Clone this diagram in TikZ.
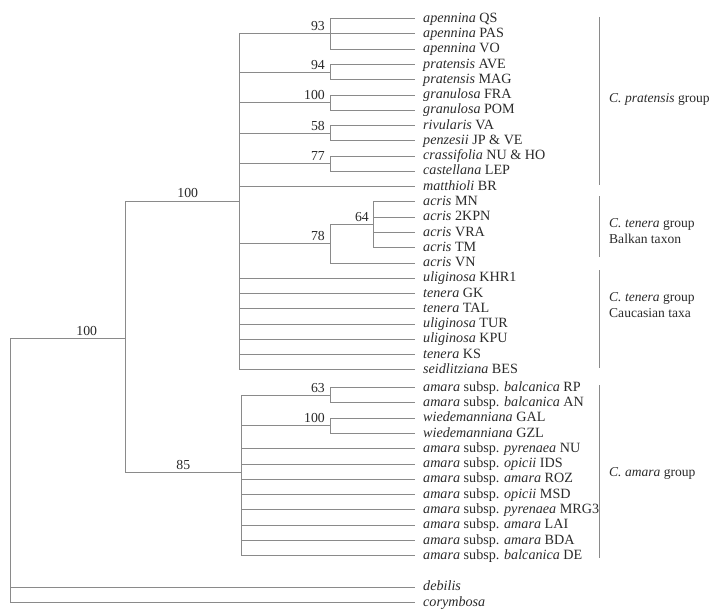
\documentclass[tikz,border=0pt]{standalone}
\usepackage{fontspec}
\setmainfont{Liberation Serif}
\definecolor{linec}{HTML}{8A8A8A}
\definecolor{textc}{HTML}{2A2A2A}
\newcommand\lf[3]{\coordinate (t#1) at (415,#2); \node[leaf] (L#1) at (423,{#2+3.6}) {#3};}
\begin{document}
\begin{tikzpicture}[x=1bp,y=-1bp,
  br/.style={draw=linec, line width=1bp},
  bar/.style={draw=linec, line width=1.3bp},
  leaf/.style={anchor=base west, inner sep=0, font=\fontsize{14.2}{15}\selectfont, text=textc},
  bsv/.style={anchor=base east, inner sep=0, font=\fontsize{13.8}{15}\selectfont, text=textc},
  bsc/.style={anchor=base, inner sep=0, font=\fontsize{13.8}{15}\selectfont, text=textc},
  grp/.style={anchor=west, inner sep=0, align=left, font=\fontsize{13.6}{16}\selectfont, text=textc}]
\useasboundingbox (0,0) rectangle (720,611);
% leaves
\lf{0}{18.7}{\textit{apennina} QS}
\lf{1}{33.97}{\textit{apennina} PAS}
\lf{2}{49.24}{\textit{apennina} VO}
\lf{3}{64.51}{\textit{pratensis} AVE}
\lf{4}{79.78}{\textit{pratensis} MAG}
\lf{5}{95.05}{\textit{granulosa} FRA}
\lf{6}{110.32}{\textit{granulosa} POM}
\lf{7}{125.59}{\textit{rivularis} VA}
\lf{8}{140.86}{\textit{penzesii} JP \& VE}
\lf{9}{156.13}{\textit{crassifolia} NU \& HO}
\lf{10}{171.4}{\textit{castellana} LEP}
\lf{11}{186.67}{\textit{matthioli} BR}
\lf{12}{201.94}{\textit{acris} MN}
\lf{13}{217.21}{\textit{acris} 2KPN}
\lf{14}{232.48}{\textit{acris} VRA}
\lf{15}{247.75}{\textit{acris} TM}
\lf{16}{263.02}{\textit{acris} VN}
\lf{17}{278.29}{\textit{uliginosa} KHR1}
\lf{18}{293.56}{\textit{tenera} GK}
\lf{19}{308.83}{\textit{tenera} TAL}
\lf{20}{324.1}{\textit{uliginosa} TUR}
\lf{21}{339.37}{\textit{uliginosa} KPU}
\lf{22}{354.64}{\textit{tenera} KS}
\lf{23}{369.91}{\textit{seidlitziana} BES}
\lf{a0}{387.7}{\textit{amara} subsp. \textit{balcanica} RP}
\lf{a1}{402.97}{\textit{amara} subsp. \textit{balcanica} AN}
\lf{a2}{418.24}{\textit{wiedemanniana} GAL}
\lf{a3}{433.51}{\textit{wiedemanniana} GZL}
\lf{a4}{448.78}{\textit{amara} subsp. \textit{pyrenaea} NU}
\lf{a5}{464.05}{\textit{amara} subsp. \textit{opicii} IDS}
\lf{a6}{479.32}{\textit{amara} subsp. \textit{amara} ROZ}
\lf{a7}{494.59}{\textit{amara} subsp. \textit{opicii} MSD}
\lf{a8}{509.86}{\textit{amara} subsp. \textit{pyrenaea} MRG3}
\lf{a9}{525.13}{\textit{amara} subsp. \textit{amara} LAI}
\lf{a10}{540.4}{\textit{amara} subsp. \textit{amara} BDA}
\lf{a11}{555.67}{\textit{amara} subsp. \textit{balcanica} DE}
\lf{deb}{587.3}{\textit{debilis}}
\lf{cor}{602.7}{\textit{corymbosa}}
% internal nodes
\coordinate (R) at (10.7,338);
\coordinate (I) at (125,338);
\coordinate (P) at (239.3,201.9);
\coordinate (Am) at (241.7,472);
\coordinate (n93) at (330,33.97);
\coordinate (n94) at (330,72.15);
\coordinate (g100) at (330,102.7);
\coordinate (n58) at (330,133.2);
\coordinate (n77) at (330,163.8);
\coordinate (n78) at (330,243.9);
\coordinate (n64) at (373.3,224.85);
\coordinate (n63) at (330,395.3);
\coordinate (w100) at (330,425.9);
% branches
\draw[br] (R) -- (I);
\draw[br] (R) |- (tdeb);
\draw[br] (R) |- (tcor);
\draw[br] (I) |- (P);
\draw[br] (I) |- (Am);
\foreach \c in {n93,n94,g100,n58,n77,t11,n78,t17,t18,t19,t20,t21,t22,t23}
  \draw[br] (P) |- (\c);
\draw[br] (n93) |- (t0); \draw[br] (n93) -- (t1); \draw[br] (n93) |- (t2);
\draw[br] (n94) |- (t3); \draw[br] (n94) |- (t4);
\draw[br] (g100) |- (t5); \draw[br] (g100) |- (t6);
\draw[br] (n58) |- (t7); \draw[br] (n58) |- (t8);
\draw[br] (n77) |- (t9); \draw[br] (n77) |- (t10);
\draw[br] (n78) |- (n64); \draw[br] (n78) |- (t16);
\foreach \c in {t12,t13,t14,t15} \draw[br] (n64) |- (\c);
\foreach \c in {n63,w100,ta4,ta5,ta6,ta7,ta8,ta9,ta10,ta11}
  \draw[br] (Am) |- (\c);
\draw[br] (n63) |- (ta0); \draw[br] (n63) |- (ta1);
\draw[br] (w100) |- (ta2); \draw[br] (w100) |- (ta3);
% support values
\node[bsv] (s93) at (325,31) {93};
\node[bsv] (s94) at (325,69.2) {94};
\node[bsv] (s100g) at (325,99.7) {100};
\node[bsv] (s58) at (325,130.2) {58};
\node[bsv] (s77) at (325,160.8) {77};
\node[bsv] (s64) at (369,221.8) {64};
\node[bsv] (s78) at (325,240.9) {78};
\node[bsv] (s63) at (325,392.3) {63};
\node[bsv] (s100w) at (325,422.9) {100};
\node[bsc] (s85) at (183.3,469) {85};
\node[bsc] (s100i) at (187.7,198) {100};
\node[bsc] (s100r) at (86.7,335.2) {100};
% group bars
\coordinate (b1a) at (599.3,17); \coordinate (b1b) at (599.3,185);
\coordinate (b2a) at (599.3,196.5); \coordinate (b2b) at (599.3,257.3);
\coordinate (b3a) at (599.3,270); \coordinate (b3b) at (599.3,368.3);
\coordinate (b4a) at (599.3,385); \coordinate (b4b) at (599.3,558.3);
\draw[bar] (b1a) -- (b1b);
\draw[bar] (b2a) -- (b2b);
\draw[bar] (b3a) -- (b3b);
\draw[bar] (b4a) -- (b4b);
\node[grp] (G1) at (609,99.3) {\textit{C. pratensis} group};
\node[grp] (G2) at (609,231) {\textit{C. tenera} group\\Balkan taxon};
\node[grp] (G3) at (609,305) {\textit{C. tenera} group\\Caucasian taxa};
\node[grp] (G4) at (609,473.3) {\textit{C. amara} group};
\end{tikzpicture}
\end{document}
